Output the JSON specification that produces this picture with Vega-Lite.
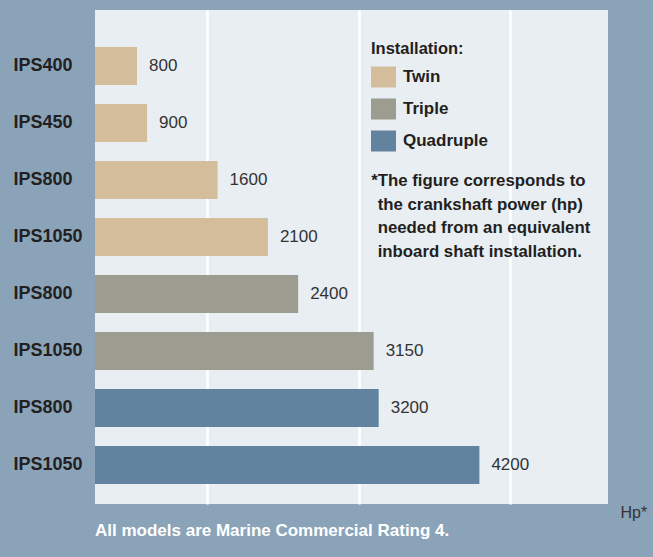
{
  "$schema": "https://vega.github.io/schema/vega-lite/v6.json",
  "width": 513,
  "height": 494,
  "autosize": {"type": "none"},
  "padding": {"left": 95, "top": 10, "right": 45, "bottom": 53},
  "background": "#8aa3b8",
  "config": {
    "view": {"fill": "#e9eef2", "stroke": null},
    "font": "Liberation Sans"
  },
  "title": {
    "text": "All models are Marine Commercial Rating 4.",
    "orient": "bottom",
    "anchor": "start",
    "frame": "group",
    "color": "#ffffff",
    "fontSize": 17,
    "fontWeight": "bold",
    "offset": 3
  },
  "data": {
    "values": [
      {"key": "IPS400|Twin", "model": "IPS400", "inst": "Twin", "hp": 800},
      {"key": "IPS450|Twin", "model": "IPS450", "inst": "Twin", "hp": 900},
      {"key": "IPS800|Twin", "model": "IPS800", "inst": "Twin", "hp": 1600},
      {"key": "IPS1050|Twin", "model": "IPS1050", "inst": "Twin", "hp": 2100},
      {"key": "IPS800|Triple", "model": "IPS800", "inst": "Triple", "hp": 2400},
      {"key": "IPS1050|Triple", "model": "IPS1050", "inst": "Triple", "hp": 3150},
      {"key": "IPS800|Quadruple", "model": "IPS800", "inst": "Quadruple", "hp": 3200},
      {"key": "IPS1050|Quadruple", "model": "IPS1050", "inst": "Quadruple", "hp": 4200}
    ]
  },
  "layer": [
    {
      "mark": {"type": "bar"},
      "encoding": {
        "y": {
          "field": "key",
          "type": "nominal",
          "sort": null,
          "scale": {"paddingInner": 0.3333, "paddingOuter": 0.5, "align": 0.65},
          "axis": {
            "title": null,
            "domain": false,
            "ticks": false,
            "tickSize": 0,
            "grid": false,
            "labelPadding": 82,
            "labelAlign": "left",
            "labelFontSize": 18,
            "labelFontWeight": "bold",
            "labelColor": "#231f20",
            "labelExpr": "split(datum.label, '|')[0]"
          }
        },
        "x": {
          "field": "hp",
          "type": "quantitative",
          "scale": {"domain": [383, 5477], "zero": false, "nice": false},
          "axis": {
            "title": "Hp*",
            "grid": true,
            "gridColor": "#ffffff",
            "gridWidth": 2.5,
            "gridOpacity": 1,
            "values": [1500, 3000, 4500],
            "labels": false,
            "ticks": false,
            "domain": false,
            "titleX": 525,
            "titleY": 13,
            "titleAlign": "left",
            "titleBaseline": "alphabetic",
            "titleAnchor": null,
            "titleFontWeight": "normal",
            "titleFontSize": 16,
            "titleColor": "#333333"
          }
        },
        "x2": {"datum": 383},
        "color": {
          "field": "inst",
          "type": "nominal",
          "scale": {"domain": ["Twin", "Triple", "Quadruple"], "range": ["#d4bd9b", "#9d9c90", "#62839f"]},
          "legend": {
            "orient": "none",
            "legendX": 276,
            "legendY": 31,
            "title": "Installation:",
            "titleFontSize": 16.5,
            "titleFontWeight": "bold",
            "titleColor": "#231f20",
            "titlePadding": 7,
            "labelFontSize": 17,
            "labelFontWeight": "bold",
            "labelColor": "#231f20",
            "labelOffset": 7,
            "symbolType": "M-1,-0.84H1V0.84H-1Z",
            "symbolSize": 625,
            "symbolStrokeWidth": 0,
            "symbolOpacity": 1,
            "rowPadding": 9,
            "padding": 0
          }
        }
      }
    },
    {
      "mark": {"type": "text", "align": "left", "baseline": "middle", "dx": 12, "fontSize": 17, "color": "#333333"},
      "encoding": {
        "y": {"field": "key", "type": "nominal", "sort": null},
        "x": {"field": "hp", "type": "quantitative"},
        "text": {"field": "hp", "type": "quantitative", "format": "d"}
      }
    },
    {
      "data": {"values": [{"n": 1}]},
      "mark": {
        "type": "text",
        "align": "left",
        "baseline": "alphabetic",
        "dy": 6,
        "lineHeight": 23.7,
        "fontSize": 16.8,
        "fontWeight": "bold",
        "color": "#231f20",
        "text": ["The figure corresponds to", "the crankshaft power (hp)", "needed from an equivalent", "inboard shaft installation."]
      },
      "encoding": {
        "x": {"datum": 3190},
        "y": {"datum": "IPS800|Twin"}
      }
    },
    {
      "data": {"values": [{"n": 1}]},
      "mark": {
        "type": "text",
        "align": "right",
        "baseline": "alphabetic",
        "dy": 6,
        "fontSize": 16.8,
        "fontWeight": "bold",
        "color": "#231f20",
        "text": "*"
      },
      "encoding": {
        "x": {"datum": 3190},
        "y": {"datum": "IPS800|Twin"}
      }
    }
  ]
}
